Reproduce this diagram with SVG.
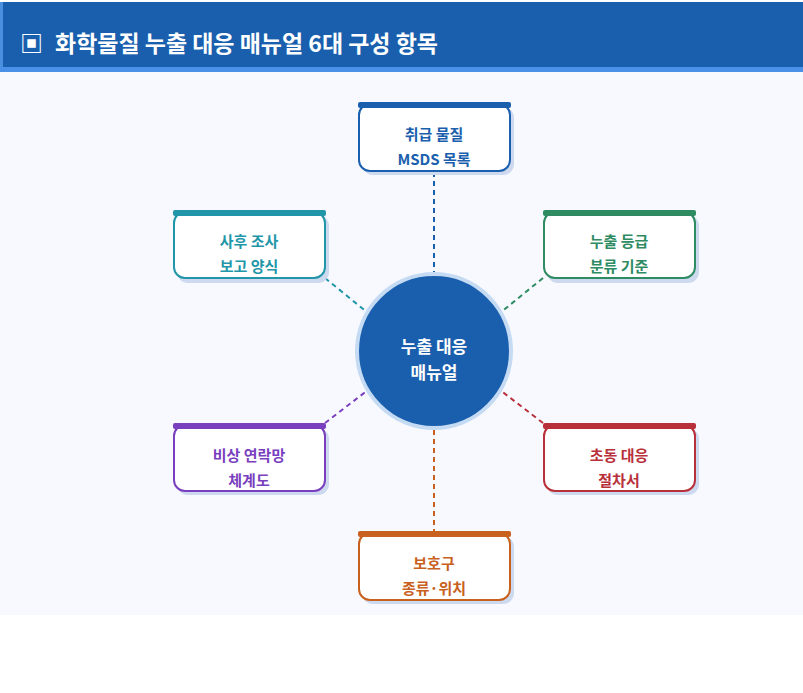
<svg xmlns="http://www.w3.org/2000/svg" width="803" height="693" viewBox="0 0 803 693">
<defs>
<style>
text{font-family:"Noto Sans CJK KR","Noto Sans",sans-serif;font-weight:700;text-anchor:middle}
.title{font-size:23px;fill:#fff;text-anchor:start}
.lbl{font-size:15px}
.ctr{font-size:17px;fill:#fff}
.box{fill:#fff;stroke-width:2}
.shadow{fill:#cdd9ee}
.conn{fill:none;stroke-width:2;stroke-dasharray:5 4}
</style>
</defs>
<rect x="0" y="0" width="803" height="693" fill="#ffffff"/>
<rect x="0" y="72" width="803" height="543" fill="#f7f9fe"/>
<g id="header">
<rect x="0" y="2" width="803" height="66" fill="#1a5fad"/>
<rect x="0" y="2" width="3" height="66" fill="#4a8fe0"/>
<rect x="0" y="67" width="803" height="5" fill="#4a8fe8"/>
<text class="title" x="20" y="52">▣</text>
<text class="title" x="55" y="52" textLength="383" lengthAdjust="spacingAndGlyphs">화학물질 누출 대응 매뉴얼 6대 구성 항목</text>
</g>
<g id="connectors">
<line class="conn" x1="434" y1="172" x2="434" y2="273" stroke="#1a5fad"/>
<line class="conn" x1="325" y1="278" x2="368" y2="313" stroke="#2196a8"/>
<line class="conn" x1="543" y1="278" x2="500" y2="313" stroke="#2e8b62"/>
<line class="conn" x1="325" y1="423" x2="368" y2="390" stroke="#7a3fbf"/>
<line class="conn" x1="543" y1="423" x2="500" y2="390" stroke="#b8303a"/>
<line class="conn" x1="434" y1="430" x2="434" y2="531" stroke="#c8601e"/>
</g>
<g id="center">
<circle cx="434" cy="351" r="77" fill="#1a5fad" stroke="#c5dbf4" stroke-width="4"/>
<text class="ctr" x="434" y="353">누출 대응</text>
<text class="ctr" x="434" y="379">매뉴얼</text>
</g>
<g id="node-msds">
<rect class="shadow" x="362" y="107" width="152" height="68" rx="11"/>
<rect class="box" x="359" y="104" width="151" height="67" rx="11" stroke="#1a5fad"/>
<rect x="358" y="102" width="153" height="6" rx="2" fill="#1a5fad"/>
<text class="lbl" x="434" y="140" fill="#1a5fad">취급 물질</text>
<text class="lbl" x="434" y="165" fill="#1a5fad">MSDS 목록</text>
</g>
<g id="node-grade">
<rect class="shadow" x="547" y="215" width="152" height="68" rx="11"/>
<rect class="box" x="544" y="212" width="151" height="66" rx="11" stroke="#2e8b62"/>
<rect x="543" y="210" width="153" height="6" rx="2" fill="#2e8b62"/>
<text class="lbl" x="619" y="247" fill="#2e8b62">누출 등급</text>
<text class="lbl" x="619" y="272" fill="#2e8b62">분류 기준</text>
</g>
<g id="node-initial">
<rect class="shadow" x="547" y="428" width="152" height="67" rx="11"/>
<rect class="box" x="544" y="425" width="151" height="66" rx="11" stroke="#b8303a"/>
<rect x="543" y="423" width="153" height="6" rx="2" fill="#b8303a"/>
<text class="lbl" x="619" y="461" fill="#b8303a">초동 대응</text>
<text class="lbl" x="619" y="486" fill="#b8303a">절차서</text>
</g>
<g id="node-ppe">
<rect class="shadow" x="362" y="536" width="152" height="68" rx="11"/>
<rect class="box" x="359" y="533" width="151" height="67" rx="11" stroke="#c8601e"/>
<rect x="358" y="531" width="153" height="6" rx="2" fill="#c8601e"/>
<text class="lbl" x="434" y="569" fill="#c8601e">보호구</text>
<text class="lbl" x="434" y="594" fill="#c8601e">종류·위치</text>
</g>
<g id="node-contact">
<rect class="shadow" x="177" y="428" width="152" height="67" rx="11"/>
<rect class="box" x="174" y="425" width="151" height="66" rx="11" stroke="#7a3fbf"/>
<rect x="173" y="423" width="153" height="6" rx="2" fill="#7a3fbf"/>
<text class="lbl" x="249" y="461" fill="#7a3fbf">비상 연락망</text>
<text class="lbl" x="249" y="486" fill="#7a3fbf">체계도</text>
</g>
<g id="node-report">
<rect class="shadow" x="177" y="215" width="152" height="68" rx="11"/>
<rect class="box" x="174" y="212" width="151" height="66" rx="11" stroke="#2196a8"/>
<rect x="173" y="210" width="153" height="6" rx="2" fill="#2196a8"/>
<text class="lbl" x="249" y="247" fill="#2196a8">사후 조사</text>
<text class="lbl" x="249" y="272" fill="#2196a8">보고 양식</text>
</g>
</svg>
